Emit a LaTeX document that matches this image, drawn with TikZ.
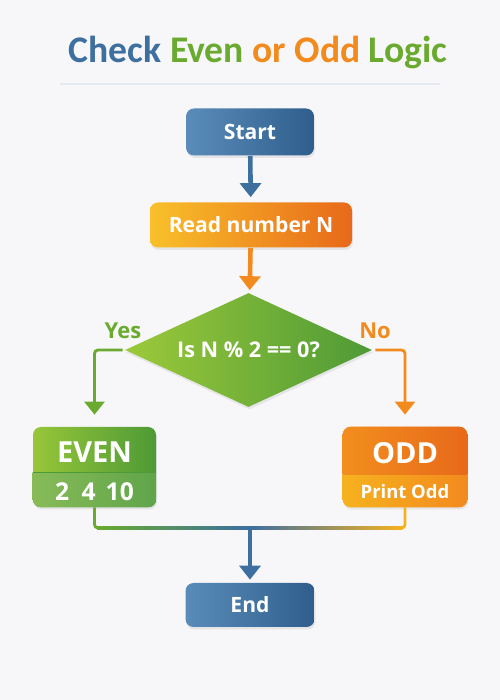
\documentclass[tikz,border=0pt]{standalone}
\usepackage{fontspec}
\setmainfont{Open Sans}
\newfontfamily\titlefont{Carlito}
\usetikzlibrary{shapes.geometric, arrows.meta, positioning, calc, shadows}

\definecolor{bgc}{HTML}{F7F7FA}
\definecolor{sepc}{HTML}{E4E9F2}
\definecolor{cblue}{HTML}{3D6F9F}
\definecolor{cbluel}{HTML}{5A8CBA}
\definecolor{cblued}{HTML}{2F5E8C}
\definecolor{cgreen}{HTML}{6AAA2E}
\definecolor{cgreenl}{HTML}{9CC93A}
\definecolor{cgreend}{HTML}{4E9A36}
\definecolor{corange}{HTML}{F28A1E}
\definecolor{corangel}{HTML}{F9C02A}
\definecolor{oranged}{HTML}{E8691A}
\definecolor{cyellow}{HTML}{F6B21E}

\begin{document}
\begin{tikzpicture}[
      box/.style={rounded corners=0.16cm, minimum width=2.56cm, minimum height=0.94cm, align=center, text=white, font=\bfseries\fontsize{12}{14}\selectfont, drop shadow={shadow xshift=0.02cm, shadow yshift=-0.05cm, opacity=0.15}},
      decision/.style={diamond, aspect=2.17, inner sep=0pt, minimum width=4.94cm, minimum height=2.28cm, text=white, font=\bfseries\fontsize{12.3}{14}\selectfont, left color=cgreenl, right color=cgreend, drop shadow={shadow xshift=0.02cm, shadow yshift=-0.05cm, opacity=0.15}},
      txt/.style={text=white, font=\bfseries\fontsize{16.5}{18}\selectfont},
      lbl/.style={font=\bfseries\fontsize{12.5}{14}\selectfont},
      arr/.style={-{Triangle[width=0.42cm, length=0.28cm]}, line width=2.6pt},
      thinarr/.style={-{Triangle[width=0.4cm, length=0.26cm]}, line width=1.6pt, rounded corners=2pt},
      joinln/.style={line width=1.6pt, rounded corners=2pt}
    ]
      \fill[bgc] (0,0) rectangle (10,14);
      \useasboundingbox (0,0) rectangle (10,14);

      % title
      \node (title) at (5.16,12.94) {\titlefont\bfseries\fontsize{21.4}{25}\selectfont
        \textcolor{cblue}{Check} \textcolor{cgreen}{Even} \textcolor{corange}{or}
        \textcolor{corange}{Odd} \textcolor{cgreen}{Logic}};
      \draw[sepc, line width=0.8pt] (1.2,12.32) -- (8.8,12.32);

      % steps
      \node[box, left color=cbluel, right color=cblued] (start) at (5,11.36) {Start};
      \node[box, minimum width=4.04cm, minimum height=0.9cm, left color=corangel, right color=oranged] (read) at (5.02,9.5) {Read number N};
      \node[decision] (check) at (4.97,7.0) {Is N \% 2 == 0?};

      % results
      \node[box, minimum width=2.46cm, minimum height=1.6cm, left color=cgreenl!90!cgreen, right color=cgreend] (even) at (1.89,4.66) {};
      \node[box, minimum width=2.48cm, minimum height=1.6cm, left color=cyellow, right color=oranged] (odd) at (8.1,4.66) {};
      \begin{scope}
        \clip[rounded corners=0.16cm] (even.south west) rectangle (even.north east);
        \shade[left color=cgreen!80!white, right color=cgreend!90!white] (even.south west) rectangle ([yshift=0.7cm]even.south east);
        \draw[cgreend, line width=0.6pt] ([yshift=0.7cm]even.south west) -- ([yshift=0.7cm]even.south east);
      \end{scope}
      \begin{scope}
        \clip[rounded corners=0.16cm] (odd.south west) rectangle (odd.north east);
        \shade[left color=cyellow, right color=corange] (odd.south west) rectangle ([yshift=0.66cm]odd.south east);
        \shade[left color=corange!90!cyellow, right color=oranged] ([yshift=0.66cm]odd.south west) rectangle (odd.north east);
      \end{scope}
      \node[txt] (evenhd)  at ([yshift=-0.52cm]even.north) {EVEN};
      \node[txt, font=\bfseries\fontsize{14}{16}\selectfont] (evenval) at ([yshift=0.32cm]even.south) {2\hspace{0.25cm}4\hspace{0.2cm}10};
      \node[txt] (oddhd)  at ([yshift=-0.52cm]odd.north) {ODD};
      \node[txt, font=\bfseries\fontsize{10.5}{12}\selectfont] (oddval) at ([yshift=0.32cm]odd.south) {Print Odd};

      \node[box, minimum width=2.58cm, minimum height=0.88cm, left color=cbluel, right color=cblued] (end) at (5,1.9) {End};

      % branch labels
      \node[lbl, text=cgreen] (yes) at (2.46,7.38) {Yes};
      \node[lbl, text=corange] (no) at (7.5,7.38) {No};

      % connectors
      \draw[arr, cblue, shorten >=0.1cm] (start) -- (read);
      \draw[arr, corange, shorten >=0.06cm] (read) -- (check);
      \draw[thinarr, cgreen, shorten >=0.24cm, shorten <=0.04cm] (check.west) -| (even.north);
      \draw[thinarr, corange, shorten >=0.24cm, shorten <=0.06cm] (check.east) -| (odd.north);

      \coordinate (merge) at (5,3.44);
      \draw[joinln, cgreen] (even.south) |- (merge);
      \draw[joinln, cyellow] (odd.south) |- (merge);
      \shade[left color=cgreen, right color=cblue] ($(even.south|-merge)+(0.05,-0.8pt)$) rectangle ($(merge)+(0,0.8pt)$);
      \shade[left color=cblue, right color=cyellow] ($(merge)+(0,-0.8pt)$) rectangle ($(odd.south|-merge)+(-0.05,0.8pt)$);
      \draw[arr, cblue, shorten >=0.06cm] (merge) -- (end);
    \end{tikzpicture}
\end{document}
